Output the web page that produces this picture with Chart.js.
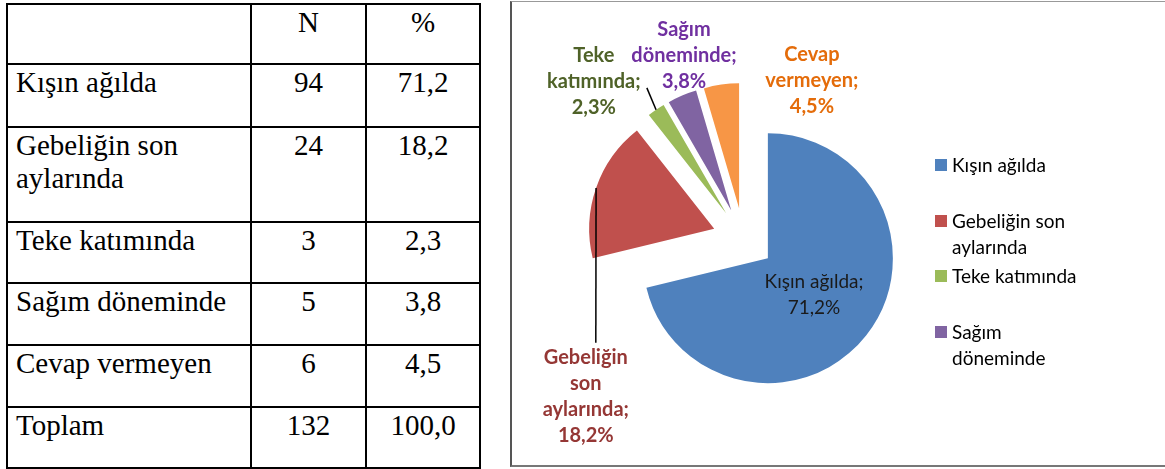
<!DOCTYPE html>
<html lang="tr">
<head>
<meta charset="utf-8">
<title>Kuzulama zamanı</title>
<script src="https://cdn.jsdelivr.net/npm/chart.js@4.4.1/dist/chart.umd.min.js"></script>
<style>
    html, body { margin: 0; padding: 0; background: #fff; }
    body { width: 1165px; height: 469px; overflow: hidden; position: relative; }
    #freq-table {
        position: absolute; left: 6px; top: 3px;
        border-collapse: collapse; table-layout: fixed;
        font-family: "Liberation Serif", "Times New Roman", serif;
        font-size: 29px; color: #000;
    }
    #freq-table td {
        border: 2px solid #000; vertical-align: top;
        padding: 1px 6px 0 8px; line-height: 33px;
    }
    #freq-table td.num { text-align: center; padding-left: 0; padding-right: 0; }
    #chart-box {
        position: absolute; left: 510px; top: 1px; width: 700px; height: 463px;
        border-left: 2px solid #555; border-top: 1px solid #999; border-bottom: 2px solid #777;
    }
    #chart-wrap { position: absolute; left: 512px; top: 2px; width: 653px; height: 462px; }
    #legend {
        position: absolute; left: 935px; top: 152px; width: 160px; height: 222px;
        overflow: hidden; font-family: Lato, "Open Sans", sans-serif; font-size: 19px; color: #000;
    }
    .lg-item { position: relative; height: 55.5px; padding-left: 17px; line-height: 26px; }
    .lg-item i { position: absolute; left: 0; top: 7px; width: 12px; height: 12px; }
</style>
</head>
<body>
<table id="freq-table">
    <colgroup><col style="width:244px"><col style="width:115px"><col style="width:114px"></colgroup>
    <tbody></tbody>
</table>
<div id="chart-box"></div>
<div id="chart-wrap"><canvas id="pie-chart"></canvas></div>
<div id="legend"></div>

<script>
// Data
const categories = ['Kışın ağılda', 'Gebeliğin son aylarında', 'Teke katımında', 'Sağım döneminde', 'Cevap vermeyen'];
const counts = [94, 24, 3, 5, 6];
const percents = ['71,2', '18,2', '2,3', '3,8', '4,5'];
const totalLabel = 'Toplam';
const totalCount = 132;
const totalPercent = '100,0';
const headers = ['', 'N', '%'];

const sliceColors = ['#4F81BD', '#C0504D', '#9BBB59', '#8064A2', '#F79646'];
const labelColors = ['#1a1a1a', '#953735', '#4F6228', '#7030A0', '#E46C0A'];

// Table row heights (px, border centre to border centre)
const rowHeights = [60, 63, 95, 61, 62, 62, 61];

// Build the table
const tbody = document.querySelector('#freq-table tbody');
const rows = [headers].concat(
    categories.map((c, i) => [c, counts[i], percents[i]]),
    [[totalLabel, totalCount, totalPercent]]
);
rows.forEach((r, i) => {
    const tr = document.createElement('tr');
    tr.style.height = rowHeights[i] + 'px';
    tr.innerHTML = `<td>${r[0]}</td><td class="num">${r[1]}</td><td class="num">${r[2]}</td>`;
    tbody.appendChild(tr);
});

// Legend (the box is too short for the last entry, as in the original)
const legend = document.getElementById('legend');
categories.forEach((c, i) => {
    const item = document.createElement('div');
    item.className = 'lg-item';
    item.innerHTML = `<i style="background:${sliceColors[i]}"></i>${c}`;
    legend.appendChild(item);
});

// Pull every slice out along its middle angle
const pieExplode = {
    id: 'pieExplode',
    afterUpdate(chart, args, opts) {
        chart.getDatasetMeta(0).data.forEach(arc => {
            if (arc.$exploded) return;
            const baseDraw = arc.draw;
            arc.draw = function (ctx, area) {
                const mid = (this.startAngle + this.endAngle) / 2;
                ctx.save();
                ctx.translate(Math.cos(mid) * opts.distance, Math.sin(mid) * opts.distance);
                baseDraw.call(this, ctx, area);
                ctx.restore();
            };
            arc.$exploded = true;
        });
    }
};

// Wrap words to a max width
function wrapText(ctx, text, maxWidth) {
    const words = text.split(' ');
    const lines = [];
    let line = '';
    words.forEach(w => {
        const test = line ? line + ' ' + w : w;
        if (line && ctx.measureText(test).width > maxWidth) {
            lines.push(line);
            line = w;
        } else {
            line = test;
        }
    });
    if (line) lines.push(line);
    return lines;
}

// Data labels: inside for the big slice, outside (with leader lines) for the rest
const sliceLabels = {
    id: 'sliceLabels',
    afterDatasetsDraw(chart, args, opts) {
        const ctx = chart.ctx;
        const arcs = chart.getDatasetMeta(0).data;
        arcs.forEach((arc, i) => {
            const spot = opts.spots[i];
            const mid = (arc.startAngle + arc.endAngle) / 2;
            const ox = arc.x + Math.cos(mid) * opts.distance;
            const oy = arc.y + Math.sin(mid) * opts.distance;
            const r = arc.outerRadius;
            let x, y;
            if (spot.inside) {
                x = ox + Math.cos(mid) * r * spot.frac;
                y = oy + Math.sin(mid) * r * spot.frac;
            } else {
                const a = spot.angle * Math.PI / 180;
                x = arc.x + spot.dist * Math.sin(a);
                y = arc.y - spot.dist * Math.cos(a);
            }
            ctx.save();
            ctx.font = spot.bold ? `bold ${opts.boldSize}px ${opts.fontFamily}` : `${opts.fontSize}px ${opts.fontFamily}`;
            ctx.fillStyle = labelColors[i];
            ctx.textAlign = 'center';
            ctx.textBaseline = 'middle';
            const lines = wrapText(ctx, `${categories[i]}; ${percents[i]}%`, spot.wrap);
            const top = y - (lines.length - 1) * opts.lineHeight / 2;
            lines.forEach((ln, k) => ctx.fillText(ln, x, top + k * opts.lineHeight));
            if (spot.leader) {
                ctx.strokeStyle = '#000';
                ctx.lineWidth = 1.5;
                ctx.beginPath();
                ctx.moveTo(ox + Math.cos(mid) * r, oy + Math.sin(mid) * r);
                ctx.lineTo(x + spot.leader[0], y + spot.leader[1]);
                ctx.stroke();
            }
            ctx.restore();
        });
    }
};

const explodeDistance = 31;

new Chart(document.getElementById('pie-chart'), {
    type: 'pie',
    data: {
        labels: categories,
        datasets: [{
            data: counts,
            backgroundColor: sliceColors,
            borderWidth: 0
        }]
    },
    options: {
        responsive: true,
        maintainAspectRatio: false,
        animation: false,
        radius: 125,
        layout: { padding: { left: 0, right: 190, top: 12, bottom: 0 } },
        events: [],
        plugins: {
            legend: { display: false },
            tooltip: { enabled: false },
            pieExplode: { distance: explodeDistance },
            sliceLabels: {
                distance: explodeDistance,
                fontFamily: 'Lato, "Open Sans", sans-serif',
                fontSize: 19,
                boldSize: 20,
                lineHeight: 26,
                spots: [
                    { inside: true, frac: 0.47, wrap: 140, bold: false },
                    { angle: 225, dist: 223, wrap: 110, bold: true, leader: [10, -54] },
                    { angle: 316.4, dist: 217, wrap: 110, bold: true, leader: [53, 6] },
                    { angle: 342, dist: 192.5, wrap: 115, bold: true },
                    { angle: 23.3, dist: 173, wrap: 110, bold: true }
                ]
            }
        }
    },
    plugins: [pieExplode, sliceLabels]
});
</script>
</body>
</html>
